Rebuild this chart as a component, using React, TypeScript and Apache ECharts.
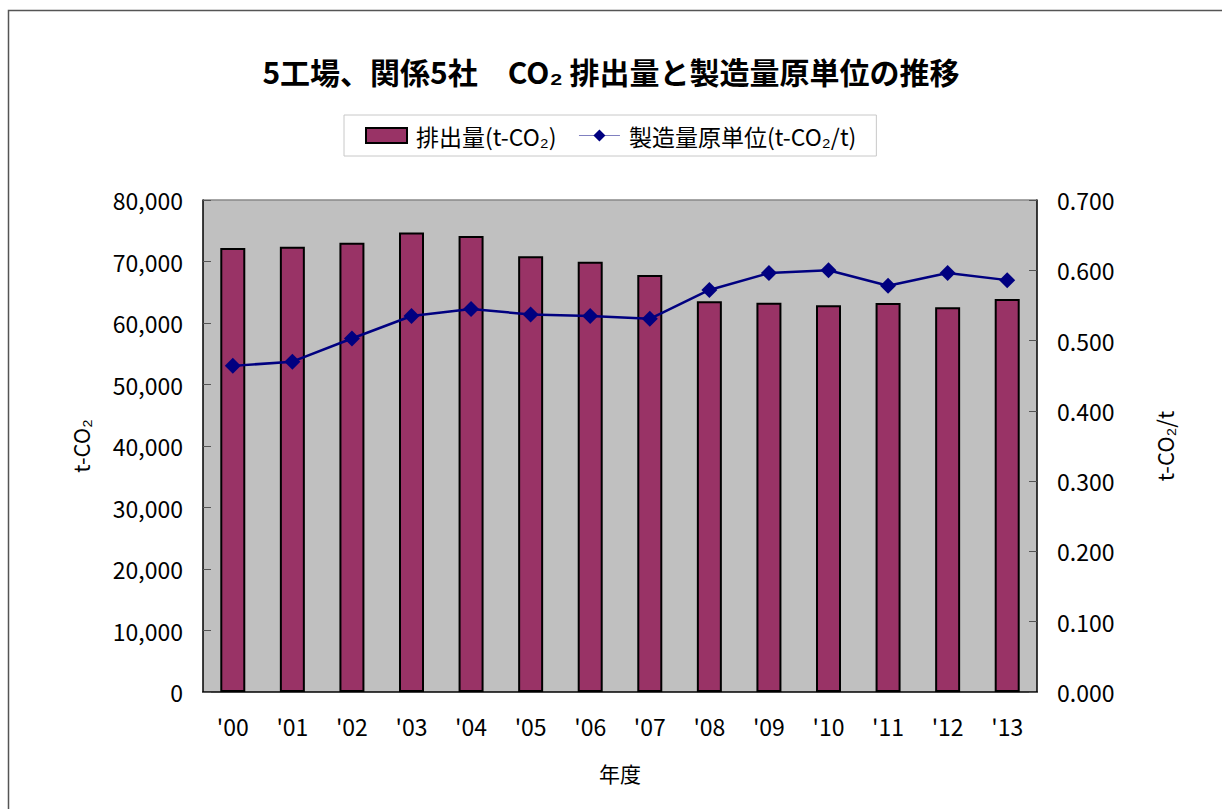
import React, { useEffect, useRef } from "react";
import * as echarts from "echarts";

const categories = ["'00", "'01", "'02", "'03", "'04", "'05", "'06", "'07", "'08", "'09", "'10", "'11", "'12", "'13"];
const emissions = [72200, 72400, 73050, 74700, 74150, 70850, 69950, 67800, 63550, 63300, 62900, 63250, 62550, 63900];
const intensity = [0.464, 0.470, 0.503, 0.535, 0.545, 0.537, 0.535, 0.531, 0.572, 0.596, 0.600, 0.578, 0.596, 0.586];
const leftTicks = { min: 0, max: 80000, interval: 10000 };
const rightTicks = { min: 0, max: 0.7, interval: 0.1 };

const FONT = "'Noto Sans CJK JP', 'Liberation Sans', sans-serif";

export default function App() {
  const ref = useRef<HTMLDivElement>(null);
  useEffect(() => {
    if (!ref.current) return;
    const chart = echarts.init(ref.current, null, { renderer: "svg" });
    chart.setOption({
      animation: false,
      backgroundColor: "#ffffff",
      textStyle: { fontFamily: FONT },
      title: {
        text: "5工場、関係5社\u3000CO\u2082 排出量と製造量原単位の推移",
        left: "center",
        top: 51,
        textStyle: { fontSize: 30, fontWeight: "bold", color: "#000", fontFamily: FONT },
      },
      legend: {
        top: 115,
        left: 344,
        orient: "horizontal",
        padding: [9, 20, 9, 21],
        borderColor: "#c8c8c8",
        borderWidth: 1,
        itemGap: 22,
        itemWidth: 41,
        itemHeight: 15,
        textStyle: { fontSize: 23, color: "#000", fontFamily: FONT, padding: [0, 0, 0, 4] },
        data: [
          { name: "排出量(t-CO\u2082)", icon: "rect" },
          { name: "製造量原単位(t-CO\u2082/t)", lineStyle: { width: 1, color: "#8080c0" } },
        ],
      },
      grid: { left: 203, right: 185, top: 200, bottom: 117, show: true, backgroundColor: "#c0c0c0", borderWidth: 0 },
      xAxis: {
        type: "category",
        data: categories,
        name: "年度",
        nameLocation: "middle",
        nameGap: 70,
        nameTextStyle: { fontSize: 21, color: "#000" },
        axisLine: { lineStyle: { color: "#000", width: 1.5 } },
        axisTick: { inside: true, length: 6, lineStyle: { color: "#555" } },
        axisLabel: { fontSize: 23, color: "#000", margin: 22 },
      },
      yAxis: [
        {
          type: "value",
          min: leftTicks.min,
          max: leftTicks.max,
          interval: leftTicks.interval,
          name: "t-CO\u2082",
          nameLocation: "middle",
          nameGap: 112,
          nameRotate: 90,
          nameTextStyle: { fontSize: 22, color: "#000" },
          axisLine: { show: true, lineStyle: { color: "#000", width: 1.5 } },
          axisTick: { show: true, inside: true, length: 8, lineStyle: { color: "#555" } },
          axisLabel: {
            fontSize: 23,
            color: "#000",
            margin: 20,
            formatter: (v: number) => v.toLocaleString("en-US"),
          },
          splitLine: { show: false },
        },
        {
          type: "value",
          min: rightTicks.min,
          max: rightTicks.max,
          interval: rightTicks.interval,
          name: "t-CO\u2082/t",
          nameLocation: "middle",
          nameGap: 116,
          nameRotate: 90,
          nameTextStyle: { fontSize: 22, color: "#000" },
          axisLine: { show: true, lineStyle: { color: "#000", width: 1.5 } },
          axisTick: { show: true, inside: true, length: 8, lineStyle: { color: "#555" } },
          axisLabel: {
            fontSize: 23,
            color: "#000",
            margin: 20,
            formatter: (v: number) => v.toFixed(3),
          },
          splitLine: { show: false },
        },
      ],
      series: [
        {
          name: "排出量(t-CO\u2082)",
          type: "bar",
          data: emissions,
          barWidth: 25,
          yAxisIndex: 0,
          itemStyle: { color: "#993366", borderColor: "#000", borderWidth: 2 },
        },
        {
          name: "製造量原単位(t-CO\u2082/t)",
          type: "line",
          data: intensity,
          yAxisIndex: 1,
          symbol: "diamond",
          symbolSize: 16,
          lineStyle: { color: "#000080", width: 2.5 },
          itemStyle: { color: "#000080" },
        },
      ],
      graphic: [
        {
          type: "rect",
          shape: { x: 8.5, y: 10.5, width: 1300, height: 900 },
          style: { fill: "none", stroke: "#555", lineWidth: 1.5 },
          silent: true,
        },
        {
          type: "line",
          shape: { x1: 203, y1: 200, x2: 1037, y2: 200 },
          style: { stroke: "#888", lineWidth: 1.5 },
          silent: true,
        },
      ],
    });
    return () => chart.dispose();
  }, []);
  return <div ref={ref} style={{ position: "fixed", left: 0, top: 0, width: 1222, height: 809 }} />;
}
